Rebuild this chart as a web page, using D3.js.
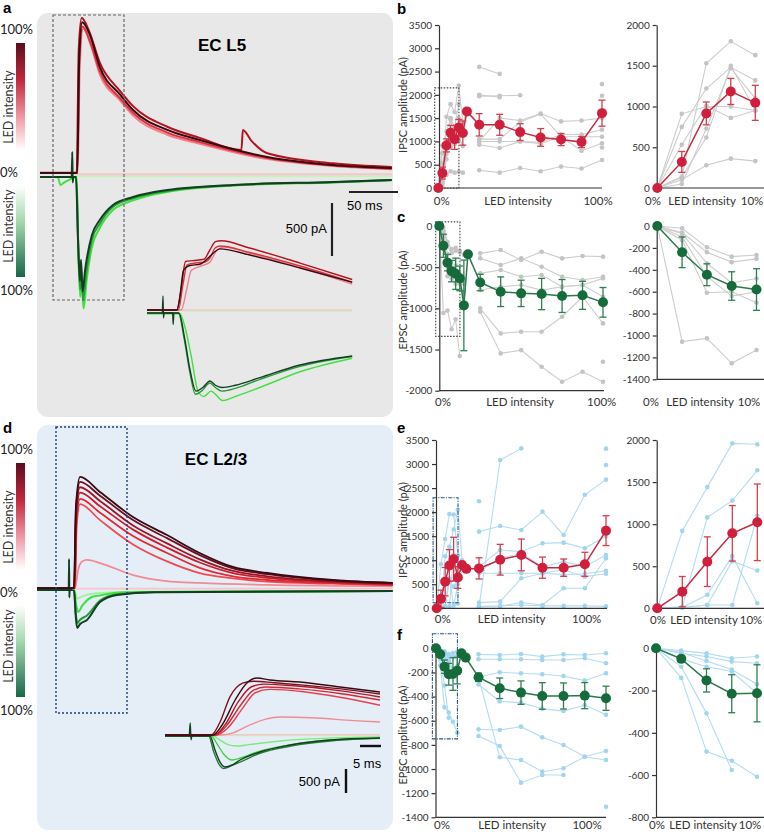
<!DOCTYPE html>
<html>
<head>
<meta charset="utf-8">
<title>LED intensity series, EC L5 and EC L2/3</title>
<script src="https://cdnjs.cloudflare.com/ajax/libs/d3/7.8.5/d3.min.js"></script>
<style>
  body { margin: 0; background: #fff; }
  svg { display: block; }
  .tick text { font-family: Lato, "Open Sans", sans-serif; font-size: 10px; fill: #333; }
  .tick line, .domain { stroke: #333; stroke-width: 1.2; }
</style>
</head>
<body>
<script>
// ---- data ----
var ledX = [0, 2.5, 5, 7.5, 10, 12.5, 15, 17.5, 25, 37.5, 50, 62.5, 75, 87.5, 100];
var nFine = 8;   // 0 - 17.5 %
var nZoom = 5;   // 0 - 10 %, right-hand plots

var ipscTicks = [0, 500, 1000, 1500, 2000, 2500, 3000, 3500];
var ipscZoomTicks = [0, 500, 1000, 1500, 2000];
var epscTicksC = [0, -500, -1000, -1500, -2000];
var epscZoomTicksC = [0, -200, -400, -600, -800, -1000, -1200, -1400];
var epscTicksF = [0, -200, -400, -600, -800, -1000, -1200, -1400];
var epscZoomTicksF = [0, -200, -400, -600, -800];

// b: EC L5 IPSC amplitude (pA)
var bMean = [0, 320, 915, 1185, 1045, 1300, 1180, 1645, 1357, 1357, 1200, 1086, 1040, 986, 1607];
var bSem  = [0, 128, 140, 160, 215, 170, 260, 0, 240, 225, 180, 190, 130, 120, 280];
var bFine = [
  [0, 910, 1000, 1000, 950, 1500, 1250, null],
  [0, 750, 1220, 1480, 1320, 1800, null, null],
  [0, 140, 1530, 1800, 1630, 2200, 1400, 1650],
  [0, 130, 620, 1500, 950, 1100, 1150, null],
  [0, 100, 280, 360, 330, 350, 330, null],
  [0, 530, 1010, 860, 950, 1000, null, null],
  [0, 50, 730, 1470, 1100, 1100, 900, null]
];
var bCoarse = [
  [2600, 2450, null, null, null, null, null],
  [1970, 1980, 1990, null, null, null, null],
  [2000, 1950, null, null, null, null, null],
  [1000, 1500, 1450, 1600, 1430, 1450, 1500],
  [1050, 1050, 1420, 1590, 1100, 1100, 1100],
  [930, 860, 1000, 950, 1100, 800, 960],
  [380, 330, 430, 360, 460, 420, 600],
  [1000, 1000, 1000, 980, 1150, 1150, 1250],
  [null, null, null, null, null, null, 2230],
  [null, null, null, null, null, null, 1980],
  [null, null, null, null, null, null, 870]
];

// c: EC L5 EPSC amplitude (pA)
var cMean = [0, -240, -445, -548, -580, -636, -964, -344, -686, -798, -818, -826, -850, -842, -927];
var cSem  = [0, 140, 100, 130, 190, 150, 550, 0, 100, 180, 160, 190, 200, 170, 180];
var cFine = [
  [0, -20, -195, -280, -265, -300, -350, null],
  [0, -70, -340, -520, -480, -600, -650, null],
  [0, -100, -460, -640, -600, -700, -800, null],
  [0, -130, -610, -600, -700, -620, -700, null],
  [0, -1056, -1026, -1254, -1132, -1580, null, null],
  [0, -60, -240, -330, -300, -320, null, null]
];
var cCoarse = [
  [-332, -292, -413, -312, -393, -365, -372],
  [-393, -474, -393, -494, -616, -656, -616],
  [-575, -535, -616, -595, -737, -717, -636],
  [-778, -737, -717, -778, -737, -717, -859],
  [-1000, -1304, -1284, -1284, -1102, -859, -1183],
  [-1040, -1547, -1507, -1709, -1891, -1770, -1891],
  [null, null, null, null, null, null, -1648]
];

// e: EC L2/3 IPSC amplitude (pA)
var eMean = [0, 198, 554, 891, 1022, 640, 900, 820, 830, 1010, 1110, 845, 845, 915, 1615];
var eSem  = [0, 180, 295, 330, 455, 225, 40, 0, 220, 320, 330, 220, 180, 250, 310];
var eFine = [
  [0, 920, 1440, 1960, 1950, 1100, null, null],
  [0, 20, 1080, 1280, 1640, 2050, 1000, 820],
  [0, 10, 160, 620, 60, 500, 800, null],
  [0, 10, 40, 560, 450, 600, null, null],
  [0, 10, 40, 40, 1100, 100, null, null]
];
var eCoarse = [
  [35, 3084, 3326, null, null, null, null],
  [1594, 1712, 1629, 2010, 1525, 2360, 2675],
  [866, 1213, 1178, 1351, 1365, 1247, 1500],
  [762, 1040, 1143, 866, 970, 866, 1109],
  [728, 728, 728, 728, 800, 658, 720],
  [118, 139, 624, 728, 700, 720, 780],
  [35, 49, 118, 69, 416, 416, 1040],
  [35, 49, 69, 50, 50, 50, 40],
  [2227, null, null, null, null, null, null],
  [null, null, null, null, null, null, 3320],
  [null, null, null, null, null, null, 2980]
];

// f: EC L2/3 EPSC amplitude (pA)
var fMean = [0, -50, -152, -215, -213, -185, -41, -77, -240, -331, -367, -395, -395, -392, -414];
var fSem  = [0, 15, 55, 90, 135, 110, 0, 0, 35, 85, 97, 110, 108, 108, 100];
var fFine = [
  [0, -11, -24, -47, -39, -30, -30, -60],
  [0, -24, -39, -63, -71, -60, -50, -90],
  [0, -50, -87, -110, -213, -150, null, null],
  [0, -87, -308, -576, null, null, null, null],
  [0, -140, -489, -532, -608, -700, null, null],
  [0, -20, -60, -100, -170, -200, null, null]
];
var fCoarse = [
  [-50, -55, -47, -69, -50, -55, -41],
  [-91, -91, -91, -97, -97, -83, -124],
  [-240, -199, -207, -215, -230, -268, -207],
  [-240, -903, -925, -1022, -994, -898, -925],
  [-726, -809, -1113, -1050, -1050, null, null],
  [-671, -677, -649, -737, -801, -898, -851],
  [-300, -440, -450, -500, -520, -470, -550],
  [null, null, null, null, null, null, -1312]
];

// example traces, [time ms, current pA], lowest -> highest LED intensity
var aIpsc = [
  [[35, 8], [359, 8]],
  [[0, 20], [38.5, 20], [40.5, 1000], [44, 1380], [52, 1220], [61, 950], [82, 700], [95, 560], [130, 380], [163, 295], [232, 150], [299, 85], [359, 55]],
  [[0, 20], [38, 20], [40, 1050], [43.5, 1400], [51, 1260], [61, 980], [82, 720], [95, 585], [130, 400], [163, 310], [232, 160], [299, 90], [359, 60]],
  [[0, 22], [37.5, 22], [39.5, 1180], [42.5, 1480], [50, 1360], [61, 1060], [82, 790], [95, 650], [130, 455], [163, 350], [205.5, 235], [207, 425], [216, 320], [232, 205], [299, 110], [359, 75]],
  [[0, 20], [38, 20], [40, 1100], [43, 1440], [51, 1320], [61, 1020], [82, 755], [95, 613], [130, 425], [163, 330], [232, 170], [299, 94], [359, 66]]
];
var aEpsc = [
  [[35, -12], [359, -12]],
  [[0, -19], [18, -19], [21, -95], [24, -75], [31, -40], [36, -19], [37.5, -19], [39, -700], [41, -1150], [42, -950], [44.5, -1260], [47.5, -1000], [53, -680], [61, -500], [74.5, -330], [95, -240], [130, -160], [197, -100], [299, -70], [359, -50]],
  [[0, -19], [37, -19], [39, -650], [41, -1080], [42, -880], [44, -1180], [47, -940], [53, -610], [61, -460], [74.5, -300], [95, -220], [130, -150], [197, -97], [299, -68], [359, -48]],
  [[0, -19], [36.7, -19], [38.8, -613], [40.8, -1000], [41.8, -800], [43.5, -1100], [46, -900], [53, -566], [61, -425], [74.5, -283], [95, -208], [130, -142], [197, -94], [299, -66], [359, -47]],
  [[32.4, -19], [32.9, 217], [33.4, -70], [33.9, -19]]
];
var aIpscZoom = [
  [[12, 22], [72, 22]],
  [[0, 22], [12, 22], [14, 500], [15.5, 900], [19, 1000], [22, 1080], [24.5, 1350], [27, 1420], [36, 1280], [54, 960], [72, 600]],
  [[0, 22], [11, 22], [12.6, 578], [14, 1022], [17, 1067], [20.4, 1089], [22.1, 1178], [23.9, 1400], [25.6, 1444], [36.1, 1300], [53.7, 1000], [72, 640]],
  [[0, 22], [10.5, 22], [12, 500], [13.5, 1100], [16, 1120], [20, 1150], [22, 1350], [24, 1540], [26, 1560], [36, 1400], [54, 1060], [72, 700]],
  [[0, 22], [10.5, 22], [11.5, 300], [12.8, 900], [14.5, 1000], [19, 1050], [21, 1150], [23.5, 1300], [25.6, 1380], [36.1, 1244], [53.7, 956], [72, 640]]
];
var aEpscZoom = [
  [[13, -8], [72, -8]],
  [[0, -60], [11.5, -60], [13.5, -400], [15.5, -1000], [18, -1800], [20, -1900], [22.5, -1780], [24, -1850], [26.5, -1990], [31, -1900], [39.6, -1700], [53.7, -1350], [72, -1050]],
  [[0, -44], [11, -44], [13, -600], [15, -1350], [17, -1850], [19.5, -1760], [22, -1600], [24, -1700], [26.3, -1780], [31, -1720], [39.6, -1520], [53.7, -1230], [72, -1010]],
  [[0, -44], [11.2, -44], [13.3, -644], [15.1, -1311], [17.2, -1780], [19.6, -1700], [22.1, -1556], [24, -1650], [26.3, -1700], [31, -1650], [39.6, -1480], [53.7, -1200], [72, -1000]],
  [[5.4, -44], [5.6, 333], [5.8, -150], [6.0, -44], [9, -44], [9.2, -300], [9.4, -44]]
];
var dIpsc = [
  [[36, 4], [363, 4]],
  [[0, 9], [39, 9], [42, 180], [46, 260], [51, 274], [64.3, 245], [98, 132], [132, 75], [166, 57], [235, 38], [363, 25]],
  [[0, 9], [38.8, 9], [40.5, 600], [43.9, 800], [64.3, 650], [98, 420], [132.7, 260], [166, 150], [200, 100], [235, 70], [302, 50], [363, 35]],
  [[0, 9], [38.5, 9], [40.2, 640], [43.9, 850], [64.3, 720], [98, 500], [132.7, 340], [166, 200], [200, 120], [235, 85], [302, 55], [363, 40]],
  [[0, 9], [38.3, 9], [40, 680], [43.9, 910], [64.3, 780], [98, 560], [132.7, 390], [166, 250], [200, 150], [235, 105], [302, 65], [363, 45]],
  [[0, 9], [38, 9], [39.9, 720], [43.9, 960], [64.3, 830], [98, 600], [132.7, 430], [166, 280], [200, 170], [235, 120], [302, 70], [363, 50]],
  [[0, 9], [37.8, 9], [39.8, 760], [43.9, 1010], [64.3, 880], [98, 650], [132.7, 480], [166, 320], [200, 195], [235, 140], [302, 80], [363, 55]],
  [[0, 9], [37.7, 9], [39.8, 790], [43.9, 1057], [64.3, 915], [98, 679], [132.7, 509], [166, 340], [200, 208], [235, 151], [302, 85], [363, 57]]
];
var dEpsc = [
  [[0, -10], [38, -10], [41, -90], [46, -70], [60, -40], [100, -25], [363, -20]],
  [[0, -10], [38, -10], [40, -150], [42, -217], [46, -160], [55, -80], [64.3, -60], [90, -30], [363, -20]],
  [[0, -10], [37.8, -10], [39.5, -220], [41.2, -320], [44, -290], [51, -250], [64.3, -110], [81.6, -50], [120, -28], [363, -20]],
  [[0, -10], [37.8, -10], [39.5, -250], [41, -368], [44, -330], [51, -292], [64.3, -123], [81.6, -57], [120, -30], [363, -20]],
  [[32.4, -10], [32.7, 283], [33, -80], [33.3, -10]]
];
var dIpscZoom = [
  [[12, 5], [51.2, 5]],
  [[0, 0], [13, 0], [16, 40], [20, 200], [24, 330], [27.4, 375], [35, 360], [45, 300], [51.2, 271]],
  [[0, 0], [12.3, 0], [15, 150], [18.5, 560], [21.5, 880], [25, 950], [33, 900], [42, 780], [51.2, 620]],
  [[0, 0], [12, 0], [14.5, 180], [18, 620], [21, 930], [24, 1000], [32, 960], [42, 860], [51.2, 729]],
  [[0, 0], [11.8, 0], [14.2, 200], [17.5, 700], [20.5, 1000], [23.5, 1060], [30, 1030], [42, 920], [51.2, 792]],
  [[0, 0], [11, 0], [13, 250], [15.5, 800], [18.5, 1080], [21, 1120], [26, 1090], [33, 1040], [42, 960], [51.2, 854]],
  [[0, 0], [11.4, 0], [13.6, 208], [16.7, 729], [19.5, 1083], [21.9, 1188], [25, 1146], [32.1, 1104], [41.7, 1000], [51.2, 896]]
];
var dEpscZoom = [
  [[12, -10], [51.2, -10]],
  [[0, -20], [11.5, -20], [13, -100], [15, -200], [17, -230], [20, -200], [28, -120], [40, -60], [51.2, -40]],
  [[0, -20], [11, -20], [12.5, -200], [14, -400], [16, -520], [18, -480], [22, -350], [30, -200], [40, -100], [51.2, -60]],
  [[0, -20], [10.4, -20], [11.6, -350], [12.8, -600], [14, -700], [15.8, -640], [18, -560], [22.6, -380], [30, -230], [40, -120], [51.2, -70]],
  [[0, -20], [10.7, -20], [11.9, -312], [13.1, -563], [14.3, -667], [16, -625], [17.9, -521], [22.6, -354], [29.8, -208], [39.3, -104], [51.2, -62]],
  [[5.8, -10], [6, 250], [6.2, -100], [6.4, -10]]
];

// ---- styles ----
var sans = "Lato, 'Open Sans', sans-serif";
var arial = "'Liberation Sans', Arial, sans-serif";
var redA = ["#f6c6ca", "#f0808a", "#e0303f", "#b5121f", "#3a0a10"];
var greenA = ["#c6f2c0", "#3fe03f", "#2a9a3c", "#123f20", "#123f20"];
var redD = ["#f6c6ca", "#f28a92", "#ee4a55", "#e02a35", "#c81e2a", "#a01525", "#6a1020", "#3a0a10"];
var greenD = ["#a8f0a0", "#3fe03f", "#2a9a3c", "#123f20", "#123f20"];
var redDz = ["#f6c6ca", "#f28a92", "#e84050", "#d42a35", "#b01828", "#7a1020", "#3a0a10"];
var greenDz = ["#c6f2c0", "#7ee87e", "#40d040", "#2a7a3a", "#123f20", "#123f20"];

var svg = d3.select("body").append("svg")
    .attr("width", 764)
    .attr("height", 840)
    .style("font-family", sans);

var defs = svg.append("defs");
function gradient(id, stops) {
  var lg = defs.append("linearGradient").attr("id", id)
      .attr("x1", 0).attr("x2", 0).attr("y1", 0).attr("y2", 1);
  stops.forEach(function(s) {
    lg.append("stop").attr("offset", s[0]).attr("stop-color", s[1]);
  });
}
gradient("gRed", [["0%", "#5c0c1e"], ["35%", "#c4283c"], ["72%", "#f2a2ac"], ["100%", "#ffffff"]]);
gradient("gGreen", [["0%", "#ffffff"], ["40%", "#a4d8ac"], ["100%", "#17674a"]]);

// ---- left: trace panels ----
function traces(g, sets, colors, xs, ys, width) {
  var line = d3.line()
      .x(function(d) { return xs(d[0]); })
      .y(function(d) { return ys(d[1]); })
      .curve(d3.curveMonotoneX);
  g.selectAll(null)
    .data(sets)
    .enter()
    .append("path")
    .attr("d", function(d) { return line(d); })
    .attr("fill", "none")
    .attr("stroke", function(d, i) { return colors[i]; })
    .attr("stroke-width", width)
    .attr("stroke-linejoin", "round");
}

function intensityBar(top) {
  svg.append("rect").attr("x", 16).attr("y", top + 30).attr("width", 9).attr("height", 107)
      .attr("fill", "url(#gRed)");
  svg.append("rect").attr("x", 16).attr("y", top + 172).attr("width", 9).attr("height", 92)
      .attr("fill", "url(#gGreen)");
  var t = [["100%", 0, top + 21], ["0%", 0, top + 164], ["100%", 0, top + 282]];
  t.forEach(function(d) {
    svg.append("text").attr("x", d[1]).attr("y", d[2]).text(d[0])
        .attr("font-size", 13).attr("fill", "#222");
  });
  [top + 94, top + 213].forEach(function(cy) {
    svg.append("text")
        .attr("transform", "translate(13," + cy + ") rotate(-90)")
        .attr("text-anchor", "middle")
        .attr("font-size", 12.5).attr("fill", "#333")
        .text("LED intensity");
  });
}

function panelLetter(s, x, y) {
  svg.append("text").attr("x", x).attr("y", y).text(s)
      .attr("font-family", arial).attr("font-weight", "bold").attr("font-size", 15);
}

// panel a: EC L5
svg.append("rect").attr("x", 37).attr("y", 13).attr("width", 356).attr("height", 404)
    .attr("rx", 11).attr("fill", "#e8e8e8");
intensityBar(13);
panelLetter("a", 3, 13);
svg.append("text").attr("x", 222).attr("y", 51).attr("text-anchor", "middle")
    .attr("font-family", arial).attr("font-weight", "bold").attr("font-size", 17).text("EC L5");

var aT = d3.scaleLinear().domain([0, 359]).range([40, 391.8]);
var aI = d3.scaleLinear().domain([0, 500]).range([175, 122]);
var ga = svg.append("g");
traces(ga, aEpsc, greenA, aT, aI, 2);
traces(ga, aIpsc, redA, aT, aI, 2);
ga.append("rect").attr("x", 53).attr("y", 15).attr("width", 71).attr("height", 285)
    .attr("fill", "none").attr("stroke", "#666").attr("stroke-width", 1.2).attr("stroke-dasharray", "3,2");

var aTz = d3.scaleLinear().domain([0, 72]).range([147, 352.2]);
var aIz = d3.scaleLinear().domain([0, 1000]).range([311, 266]);
traces(ga, aEpscZoom, greenA, aTz, aIz, 1.4);
traces(ga, aIpscZoom, redA, aTz, aIz, 1.4);

// scale bars a
ga.append("line").attr("x1", 349).attr("x2", 349 + aT(50) - aT(0)).attr("y1", 192).attr("y2", 192)
    .attr("stroke", "#222").attr("stroke-width", 2.2);
ga.append("line").attr("x1", 332).attr("x2", 332).attr("y1", 203).attr("y2", 203 + aI(0) - aI(500))
    .attr("stroke", "#222").attr("stroke-width", 2.2);
ga.append("text").attr("x", 347).attr("y", 210).attr("font-family", arial).attr("font-size", 13).text("50 ms");
ga.append("text").attr("x", 327).attr("y", 233).attr("text-anchor", "end")
    .attr("font-family", arial).attr("font-size", 13).text("500 pA");

// panel d: EC L2/3
svg.append("rect").attr("x", 37).attr("y", 425).attr("width", 356).attr("height", 405)
    .attr("rx", 11).attr("fill", "#e5eef7");
intensityBar(433);
panelLetter("d", 3, 433);
svg.append("text").attr("x", 216).attr("y", 465).attr("text-anchor", "middle")
    .attr("font-family", arial).attr("font-weight", "bold").attr("font-size", 17).text("EC L2/3");

var dT = d3.scaleLinear().domain([0, 363]).range([37, 392.7]);
var dI = d3.scaleLinear().domain([0, 500]).range([589, 536]);
var gd = svg.append("g");
traces(gd, dEpsc, greenD, dT, dI, 2);
traces(gd, dIpsc, redD, dT, dI, 1.8);
gd.append("rect").attr("x", 56).attr("y", 427).attr("width", 71).attr("height", 286)
    .attr("fill", "none").attr("stroke", "#1f3f7a").attr("stroke-width", 1.4).attr("stroke-dasharray", "2,2");

var dTz = d3.scaleLinear().domain([0, 51.2]).range([165, 380]);
var dIz = d3.scaleLinear().domain([0, 500]).range([735, 711]);
traces(gd, dEpscZoom, greenDz, dTz, dIz, 1.4);
traces(gd, dIpscZoom, redDz, dTz, dIz, 1.4);

gd.append("line").attr("x1", 360).attr("x2", 360 + dTz(5) - dTz(0)).attr("y1", 746).attr("y2", 746)
    .attr("stroke", "#111").attr("stroke-width", 2.4);
gd.append("line").attr("x1", 346).attr("x2", 346).attr("y1", 769).attr("y2", 769 + dIz(0) - dIz(500))
    .attr("stroke", "#111").attr("stroke-width", 2.4);
gd.append("text").attr("x", 353).attr("y", 768).attr("font-family", arial).attr("font-size", 13).text("5 ms");
gd.append("text").attr("x", 340).attr("y", 786).attr("text-anchor", "end")
    .attr("font-family", arial).attr("font-size", 13).text("500 pA");

// ---- right: amplitude plots ----
var themeL5 = { cell: "#cdcdcd", dot: "#c4c4c4", box: "#444", boxDash: "1.5,1.5" };
var themeL23 = { cell: "#b4ddf0", dot: "#a2d5ee", box: "#2a5a8a", boxDash: "4,1.2,1.2,1.2" };
var ipscCol = { line: "#c62a3e", dot: "#d01f3c", bar: "#d2404f" };
var epscCol = { line: "#2a7a4c", dot: "#156b3a", bar: "#2f7f52" };

var amp = [
  { xr: [438.3, 602], yr: [188, 25], yd: [0, 3500], ticks: ipscTicks, ax: 439, base: 0, xEnd: 602,
    mean: bMean, sem: bSem, fine: bFine, coarse: bCoarse, th: themeL5, col: ipscCol,
    box: [2150, -5], lab: [205, 441.7, 518, 598], title: ["IPSC amplitude (pA)", 105] },
  { xr: [657.3, 755.3], yr: [188, 25], yd: [0, 2000], ticks: ipscZoomTicks, ax: 656.7, base: 0, xEnd: 764, zoom: true,
    mean: bMean, sem: bSem, fine: bFine, th: themeL5, col: ipscCol, lab: [205, 653, 702, 752] },
  { xr: [439.3, 603], yr: [390.7, 226], yd: [-2000, 0], ticks: epscTicksC, ax: 439.3, base: -2000, xEnd: 604,
    mean: cMean, sem: cSem, fine: cFine, coarse: cCoarse, th: themeL5, col: epscCol,
    box: [50, -1340], lab: [406, 443, 520, 601.7], title: ["EPSC amplitude (pA)", 300] },
  { xr: [657.3, 756.5], yr: [379.3, 226], yd: [-1400, 0], ticks: epscZoomTicksC, ax: 656.7, base: -1400, xEnd: 764, zoom: true,
    mean: cMean, sem: cSem, fine: cFine, th: themeL5, col: epscCol, lab: [406, 651, 700, 749] },
  { xr: [436.7, 606], yr: [608.3, 440], yd: [0, 3500], ticks: ipscTicks, ax: 436, base: 0, xEnd: 607,
    mean: eMean, sem: eSem, fine: eFine, coarse: eCoarse, th: themeL23, col: ipscCol,
    box: [2300, 115], lab: [623, 442.7, 511.7, 586.7], title: ["IPSC amplitude (pA)", 530] },
  { xr: [657.3, 757.3], yr: [608.3, 440], yd: [0, 2000], ticks: ipscZoomTicks, ax: 656.7, base: 0, xEnd: 764, zoom: true,
    mean: eMean, sem: eSem, fine: eFine, th: themeL23, col: ipscCol, lab: [624, 658, 704, 751] },
  { xr: [436, 606], yr: [817.3, 648.3], yd: [-1400, 0], ticks: epscTicksF, ax: 435.5, base: -1400, xEnd: 606,
    mean: fMean, sem: fSem, fine: fFine, coarse: fCoarse, th: themeL23, col: epscCol,
    box: [120, -750], lab: [829, 442, 512, 587], title: ["EPSC amplitude (pA)", 735] },
  { xr: [656, 757], yr: [817.3, 648.3], yd: [-800, 0], ticks: epscZoomTicksF, ax: 656, base: -800, xEnd: 764, zoom: true,
    mean: fMean, sem: fSem, fine: fFine, th: themeL23, col: epscCol, lab: [829, 657, 703, 750] }
];

amp.forEach(function(p) {
  var g = svg.append("g");
  var x = d3.scaleLinear().domain(p.zoom ? [0, 10] : [0, 100]).range(p.xr);
  var y = p.yd[0] < 0
      ? d3.scaleLinear().domain([p.yd[0], 0]).range([p.yr[0], p.yr[1]])
      : d3.scaleLinear().domain([0, p.yd[1]]).range([p.yr[0], p.yr[1]]);

  var n = p.zoom ? nZoom : ledX.length;
  var xv = ledX.slice(0, n);

  // individual cells
  var cells = p.fine.map(function(c) {
    return c.slice(0, p.zoom ? nZoom : nFine).map(function(v, i) { return [ledX[i], v]; });
  });
  if (!p.zoom) {
    p.coarse.forEach(function(c) {
      cells.push(c.map(function(v, i) { return [ledX[nFine + i], v]; }));
    });
  }
  var cellLine = d3.line()
      .defined(function(d) { return d[1] != null; })
      .x(function(d) { return x(d[0]); })
      .y(function(d) { return y(d[1]); });
  g.selectAll(null).data(cells).enter().append("path")
      .attr("d", cellLine).attr("fill", "none")
      .attr("stroke", p.th.cell).attr("stroke-width", 1.1);
  var dots = [];
  cells.forEach(function(c) { c.forEach(function(d) { if (d[1] != null) dots.push(d); }); });
  g.selectAll(null).data(dots).enter().append("circle")
      .attr("cx", function(d) { return x(d[0]); })
      .attr("cy", function(d) { return y(d[1]); })
      .attr("r", 2.3).attr("fill", p.th.dot);

  // zoomed region marker
  if (p.box) {
    g.append("rect")
        .attr("x", x(0) - 3.6).attr("y", y(p.box[0]))
        .attr("width", x(12.6) - x(0) + 3.6)
        .attr("height", y(p.box[1]) - y(p.box[0]))
        .attr("fill", "none").attr("stroke", p.th.box).attr("stroke-width", 1.1)
        .attr("stroke-dasharray", p.th.boxDash);
  }

  // axes
  g.append("g")
      .attr("transform", "translate(" + p.ax + ",0)")
      .call(d3.axisLeft(y).tickValues(p.ticks).tickSize(4).tickSizeOuter(0)
        .tickFormat(function(d) { return String(d); }));
  g.append("line").attr("x1", p.ax).attr("x2", p.xEnd)
      .attr("y1", y(p.base)).attr("y2", y(p.base))
      .attr("stroke", "#333").attr("stroke-width", 1.2);

  // mean +/- sem
  var m = xv.map(function(v, i) { return [v, p.mean[i], p.sem[i]]; });
  g.append("path")
      .attr("d", d3.line().x(function(d) { return x(d[0]); }).y(function(d) { return y(d[1]); })(m))
      .attr("fill", "none").attr("stroke", p.col.line).attr("stroke-width", 1.5);
  var eb = g.selectAll(null).data(m.filter(function(d) { return d[2] > 0; })).enter().append("g")
      .attr("stroke", p.col.bar).attr("stroke-width", 1.3);
  eb.append("line")
      .attr("x1", function(d) { return x(d[0]); }).attr("x2", function(d) { return x(d[0]); })
      .attr("y1", function(d) { return y(d[1] - d[2]); }).attr("y2", function(d) { return y(d[1] + d[2]); });
  [-1, 1].forEach(function(s) {
    eb.append("line")
        .attr("x1", function(d) { return x(d[0]) - 3.5; }).attr("x2", function(d) { return x(d[0]) + 3.5; })
        .attr("y1", function(d) { return y(d[1] + s * d[2]); }).attr("y2", function(d) { return y(d[1] + s * d[2]); });
  });
  g.selectAll(null).data(m).enter().append("circle")
      .attr("cx", function(d) { return x(d[0]); })
      .attr("cy", function(d) { return y(d[1]); })
      .attr("r", 5).attr("fill", p.col.dot);

  // x labels
  var labs = p.zoom ? ["0%", "LED intensity", "10%"] : ["0%", "LED intensity", "100%"];
  labs.forEach(function(t, i) {
    g.append("text").attr("x", p.lab[i + 1]).attr("y", p.lab[0])
        .attr("text-anchor", "middle").attr("font-size", 11.5).attr("fill", "#333").text(t);
  });
  if (p.title) {
    g.append("text")
        .attr("transform", "translate(407," + p.title[1] + ") rotate(-90)")
        .attr("text-anchor", "middle").attr("font-size", 11).attr("fill", "#333")
        .text(p.title[0]);
  }
});

panelLetter("b", 397, 14);
panelLetter("c", 397, 222);
panelLetter("e", 397, 433);
panelLetter("f", 397, 640);
</script>
</body>
</html>
